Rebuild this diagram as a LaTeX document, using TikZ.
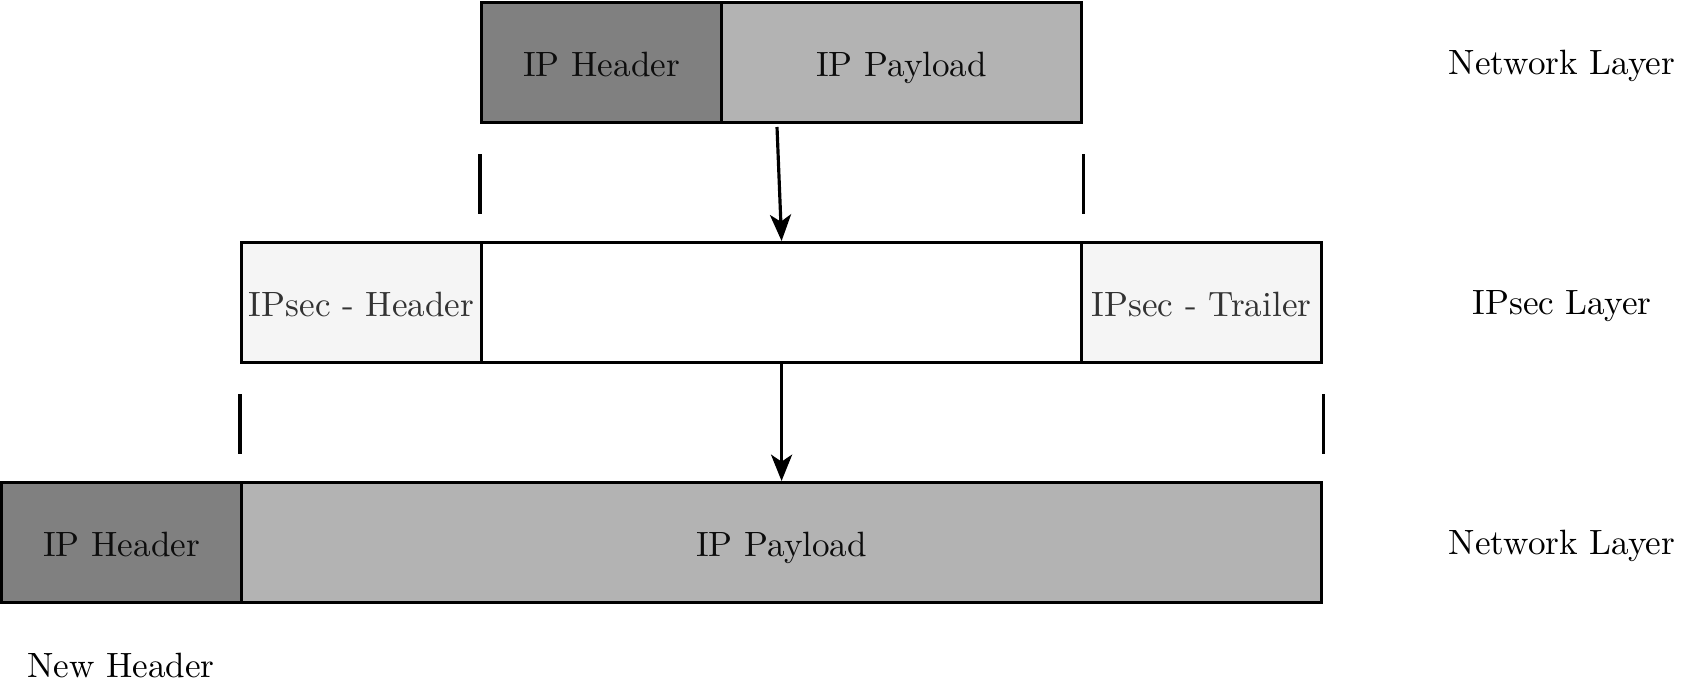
\documentclass[tikz,border=0pt]{standalone}
\usetikzlibrary{arrows.meta}

\definecolor{hdrgray}{HTML}{808080}
\definecolor{paygray}{HTML}{B3B3B3}
\definecolor{secgray}{HTML}{F5F5F5}
\definecolor{sectext}{HTML}{333333}

\tikzset{
    cell/.style={draw, line width=0.9pt, minimum height=1.2cm, inner sep=0pt,
        text height=8pt, text depth=0pt, anchor=north west},
    hdrcell/.style={cell, fill=hdrgray, text=black!95},
    paycell/.style={cell, fill=paygray, text=black!95},
    seccell/.style={cell, fill=secgray, text=sectext},
    tick/.style={line width=0.9pt},
    layer/.style={text=black}
}

\begin{document}
\begin{tikzpicture}[>={Stealth[length=7.5pt, width=6pt, inset=2pt]}]
    \useasboundingbox (0,0) rectangle (16.98,6.93);

    % 1. Goi tin ban dau (Network Layer)
    \node[hdrcell, minimum width=2.4cm] (hdrA) at (4.80, 6.92) {IP Header};
    \node[paycell, minimum width=3.6cm] (payA) at (7.20, 6.92) {IP Payload};
    \node[layer] (layA) at (15.62, 6.27) {Network Layer};

    % 2. Tang IPsec
    \node[seccell, minimum width=2.4cm] (ipsecHdr) at (2.40, 4.52) {IPsec - Header};
    \node[cell, fill=white, minimum width=6cm] (ipsecMid) at (4.80, 4.52) {};
    \node[seccell, minimum width=2.4cm] (ipsecTrl) at (10.80, 4.52) {IPsec - Trailer};
    \node[layer] (layB) at (15.62, 3.87) {IPsec Layer};

    % 3. Goi tin moi (Network Layer)
    \node[hdrcell, minimum width=2.4cm] (hdrC) at (0.0, 2.12) {IP Header};
    \node[paycell, minimum width=10.8cm] (payC) at (2.40, 2.12) {IP Payload};
    \node[layer] (layC) at (15.62, 1.47) {Network Layer};
    \node[layer] (newHdr) at (1.21, 0.28) {New Header};

    % 4. Vach danh dau bien
    \draw[tick] ([yshift=-0.3cm]hdrA.south west) -- ++(0,-0.6);
    \draw[tick] ([yshift=-0.3cm]payA.south east) -- ++(0,-0.6);
    \draw[tick] ([yshift=-0.3cm]ipsecHdr.south west) -- ++(0,-0.6);
    \draw[tick] ([yshift=-0.3cm]ipsecTrl.south east) -- ++(0,-0.6);

    % 5. Mui ten dong goi
    \coordinate (arrA) at (7.77, 5.66);
    \draw[->, line width=0.9pt] (arrA) -- (ipsecMid.north);
    \draw[->, line width=0.9pt] (ipsecMid.south) -- (ipsecMid.south |- payC.north);
\end{tikzpicture}
\end{document}
